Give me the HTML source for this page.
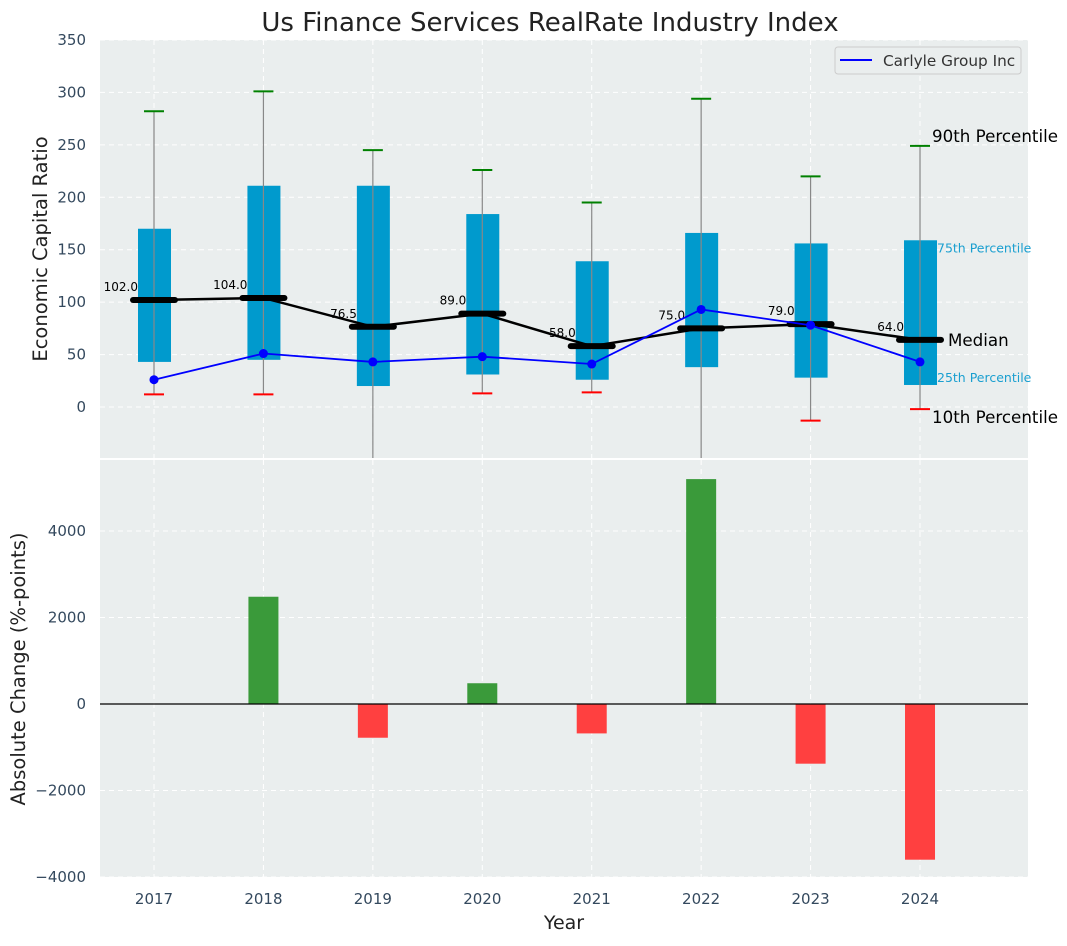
<!DOCTYPE html>
<html><head><meta charset="utf-8"><style>
body{margin:0;background:#fff;font-family:"DejaVu Sans","Liberation Sans",sans-serif;}
svg text{font-family:"DejaVu Sans","Liberation Sans",sans-serif;}
</style></head><body>
<svg id="c" width="1067" height="942" xmlns="http://www.w3.org/2000/svg">
<rect x="100" y="40" width="928" height="418" fill="#eaeeee"/>
<rect x="100" y="460" width="928" height="417" fill="#eaeeee"/>
<text x="550" y="31" font-size="26" text-anchor="middle" fill="#222">Us Finance Services RealRate Industry Index</text>
<text transform="translate(47,249) rotate(-90)" font-size="19.5" text-anchor="middle" fill="#222">Economic Capital Ratio</text>
<text transform="translate(25,669) rotate(-90)" font-size="19.5" text-anchor="middle" fill="#222">Absolute Change (%-points)</text>
<text x="564" y="929" font-size="19" text-anchor="middle" fill="#222">Year</text>
<g id="g"></g>
<g>
<rect x="835" y="47" width="186" height="27" rx="3" fill="#eaeeee" stroke="#ccc"/>
<line x1="840" y1="60" x2="872" y2="60" stroke="blue" stroke-width="2"/>
<text x="883" y="66" font-size="15.3" fill="#333">Carlyle Group Inc</text>
</g>
</svg>
<script>
const years=[2017,2018,2019,2020,2021,2022,2023,2024];
const p10=[12,12,-80,13,14,-80,-13,-2];
const p25=[43,45,20,31,26,38,28,21];
const medians=[102,104,76.5,89,58,75,79,64];
const p75=[170,211,211,184,139,166,156,159];
const p90=[282,301,245,226,195,294,220,249];
const carlyle=[26,51,43,48,41,93,78,43];
const changes=[0,2480,-780,480,-680,5200,-1380,-3600];
const topTicks=[0,50,100,150,200,250,300,350];
const botTicks=[-4000,-2000,0,2000,4000];

const NS="http://www.w3.org/2000/svg";
const g=document.getElementById('g');
const X=v=>154+(v-2017)*109.43;
const Y=v=>407-v*(367/350);
const Y2=v=>704-v*(173/4000);
function mk(t,a,txt){const e=document.createElementNS(NS,t);for(const k in a)e.setAttribute(k,a[k]);if(txt!==undefined)e.textContent=txt;g.appendChild(e);return e;}
function clipY(y){return Math.min(458,Math.max(40,y));}
topTicks.forEach(t=>{const e=mk('line',{x1:100,x2:1028,y1:Y(t),y2:Y(t),stroke:'#fff','stroke-dasharray':'5,4'});

const l=mk('text',{x:86,y:Y(t)+5,'font-size':15,'text-anchor':'end',fill:'#34495e'},t);
});
botTicks.forEach(t=>{const e=mk('line',{x1:100,x2:1028,y1:Y2(t),y2:Y2(t),stroke:'#fff','stroke-dasharray':'5,4'});

const l=mk('text',{x:86,y:Y2(t)+5,'font-size':15,'text-anchor':'end',fill:'#34495e'},t<0?'\u2212'+(-t):t);
});
years.forEach(y=>{[[40,458],[460,877]].forEach(r=>{const e=mk('line',{x1:X(y),x2:X(y),y1:r[0],y2:r[1],stroke:'#fff','stroke-dasharray':'5,4'});
});
const l=mk('text',{x:X(y),y:904,'font-size':15,'text-anchor':'middle',fill:'#34495e'},y);
});
years.forEach((y,i)=>{const x=X(y);
const b=mk('rect',{x:x-16,y:Y(p75[i]),width:33,height:Y(p25[i])-Y(p75[i]),fill:'#009acd'});

const w=mk('line',{x1:x,x2:x,y1:clipY(Y(p90[i])),y2:clipY(Y(p10[i])),stroke:'#888','stroke-width':1.2});

const c1=mk('line',{x1:x-10,x2:x+10,y1:Y(p90[i]),y2:Y(p90[i]),stroke:'green','stroke-width':2});

if(Y(p10[i])<458){const c2=mk('line',{x1:x-10,x2:x+10,y1:Y(p10[i]),y2:Y(p10[i]),stroke:'red','stroke-width':2});
}
const bar=mk('rect',{x:x-15,width:30,y:Math.min(Y2(changes[i]),704),height:Math.abs(Y2(changes[i])-704),fill:changes[i]>=0?'#3a9a3a':'#ff4040'});

});
const ml=mk('polyline',{points:years.map((y,i)=>X(y)+','+Y(medians[i])).join(' '),fill:'none',stroke:'#000','stroke-width':2.5});

years.forEach((y,i)=>{const s=mk('line',{x1:X(y)-21,x2:X(y)+21,y1:Y(medians[i]),y2:Y(medians[i]),stroke:'#000','stroke-width':6,'stroke-linecap':'round'});

const t=mk('text',{x:X(y)-16,y:Y(medians[i])-9,'font-size':12,'text-anchor':'end',fill:'#000'},medians[i].toFixed(1));
});
const cl=mk('polyline',{points:years.map((y,i)=>X(y)+','+Y(carlyle[i])).join(' '),fill:'none',stroke:'blue','stroke-width':1.8});

years.forEach((y,i)=>{const p=mk('circle',{cx:X(y),cy:Y(carlyle[i]),r:4.5,fill:'blue'});
});
const z=mk('line',{x1:100,x2:1028,y1:704,y2:704,stroke:'#000','stroke-width':1.2});

const L=years.length-1,xl=X(years[L]);
let a;
a=mk('text',{x:xl+12,y:Y(p90[L])-4,'font-size':16.7,fill:'#000'},'90th Percentile');
a=mk('text',{x:xl+17,y:Y(p75[L])+12,'font-size':12.5,fill:'#1a9fd0'},'75th Percentile');
a=mk('text',{x:xl+28,y:Y(medians[L])+6,'font-size':16.7,fill:'#000'},'Median');
a=mk('text',{x:xl+17,y:Y(p25[L])-3,'font-size':12.5,fill:'#1a9fd0'},'25th Percentile');
a=mk('text',{x:xl+12,y:Y(p10[L])+14,'font-size':16.7,fill:'#000'},'10th Percentile');
</script>
</body></html>
